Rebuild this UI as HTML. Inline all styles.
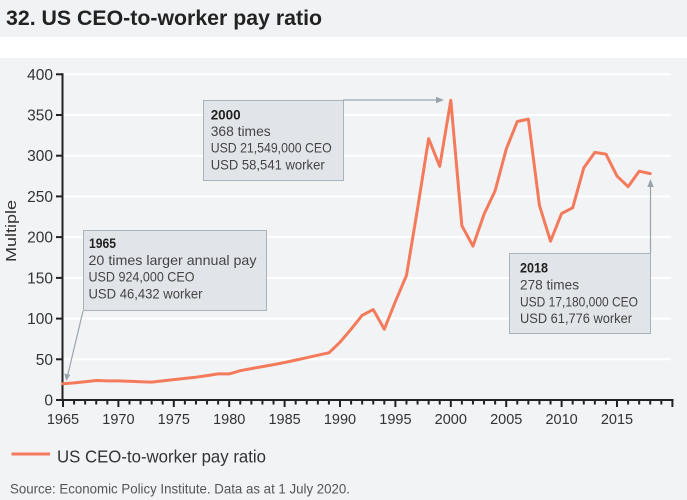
<!DOCTYPE html>
<html><head><meta charset="utf-8"><style>
html,body{margin:0;padding:0;background:#f2f3f5;}
svg{display:block;font-family:"Liberation Sans",sans-serif;}
</style></head><body>
<svg width="687" height="500" viewBox="0 0 687 500" xmlns="http://www.w3.org/2000/svg">
<rect x="0" y="0" width="687" height="37" fill="#f1f2f3"/>
<rect x="0" y="37" width="687" height="21" fill="#ffffff"/>
<rect x="0" y="58" width="687" height="442" fill="#f2f3f5"/>
<text x="6" y="25" font-size="21" font-weight="bold" fill="#222" textLength="316" lengthAdjust="spacingAndGlyphs">32. US CEO-to-worker pay ratio</text>

<g stroke="#ffffff" stroke-width="2">
<line x1="63" y1="359.3" x2="671" y2="359.3"/>
<line x1="63" y1="318.6" x2="671" y2="318.6"/>
<line x1="63" y1="277.9" x2="671" y2="277.9"/>
<line x1="63" y1="237.1" x2="671" y2="237.1"/>
<line x1="63" y1="196.4" x2="671" y2="196.4"/>
<line x1="63" y1="155.7" x2="671" y2="155.7"/>
<line x1="63" y1="115" x2="671" y2="115"/>
<line x1="63" y1="74.3" x2="671" y2="74.3"/>
</g>

<g stroke="#222" stroke-width="2" fill="none">
<line x1="62.5" y1="73.3" x2="62.5" y2="401"/>
<line x1="61.5" y1="400" x2="673.5" y2="400"/>
<line x1="56" y1="400" x2="62" y2="400"/>
<line x1="56" y1="359.3" x2="62" y2="359.3"/>
<line x1="56" y1="318.6" x2="62" y2="318.6"/>
<line x1="56" y1="277.9" x2="62" y2="277.9"/>
<line x1="56" y1="237.1" x2="62" y2="237.1"/>
<line x1="56" y1="196.4" x2="62" y2="196.4"/>
<line x1="56" y1="155.7" x2="62" y2="155.7"/>
<line x1="56" y1="115" x2="62" y2="115"/>
<line x1="56" y1="74.3" x2="63.5" y2="74.3"/>
</g>
<g stroke="#222" stroke-width="2">
<line x1="63" y1="400" x2="63" y2="407"/>
<line x1="74.08" y1="400" x2="74.08" y2="404.5"/>
<line x1="85.16" y1="400" x2="85.16" y2="404.5"/>
<line x1="96.24" y1="400" x2="96.24" y2="404.5"/>
<line x1="107.32" y1="400" x2="107.32" y2="404.5"/>
<line x1="118.4" y1="400" x2="118.4" y2="407"/>
<line x1="129.48" y1="400" x2="129.48" y2="404.5"/>
<line x1="140.56" y1="400" x2="140.56" y2="404.5"/>
<line x1="151.64" y1="400" x2="151.64" y2="404.5"/>
<line x1="162.72" y1="400" x2="162.72" y2="404.5"/>
<line x1="173.8" y1="400" x2="173.8" y2="407"/>
<line x1="184.88" y1="400" x2="184.88" y2="404.5"/>
<line x1="195.96" y1="400" x2="195.96" y2="404.5"/>
<line x1="207.04" y1="400" x2="207.04" y2="404.5"/>
<line x1="218.12" y1="400" x2="218.12" y2="404.5"/>
<line x1="229.2" y1="400" x2="229.2" y2="407"/>
<line x1="240.28" y1="400" x2="240.28" y2="404.5"/>
<line x1="251.36" y1="400" x2="251.36" y2="404.5"/>
<line x1="262.44" y1="400" x2="262.44" y2="404.5"/>
<line x1="273.52" y1="400" x2="273.52" y2="404.5"/>
<line x1="284.6" y1="400" x2="284.6" y2="407"/>
<line x1="295.68" y1="400" x2="295.68" y2="404.5"/>
<line x1="306.76" y1="400" x2="306.76" y2="404.5"/>
<line x1="317.84" y1="400" x2="317.84" y2="404.5"/>
<line x1="328.92" y1="400" x2="328.92" y2="404.5"/>
<line x1="340" y1="400" x2="340" y2="407"/>
<line x1="351.08" y1="400" x2="351.08" y2="404.5"/>
<line x1="362.16" y1="400" x2="362.16" y2="404.5"/>
<line x1="373.24" y1="400" x2="373.24" y2="404.5"/>
<line x1="384.32" y1="400" x2="384.32" y2="404.5"/>
<line x1="395.4" y1="400" x2="395.4" y2="407"/>
<line x1="406.48" y1="400" x2="406.48" y2="404.5"/>
<line x1="417.56" y1="400" x2="417.56" y2="404.5"/>
<line x1="428.64" y1="400" x2="428.64" y2="404.5"/>
<line x1="439.72" y1="400" x2="439.72" y2="404.5"/>
<line x1="450.8" y1="400" x2="450.8" y2="407"/>
<line x1="461.88" y1="400" x2="461.88" y2="404.5"/>
<line x1="472.96" y1="400" x2="472.96" y2="404.5"/>
<line x1="484.04" y1="400" x2="484.04" y2="404.5"/>
<line x1="495.12" y1="400" x2="495.12" y2="404.5"/>
<line x1="506.2" y1="400" x2="506.2" y2="407"/>
<line x1="517.28" y1="400" x2="517.28" y2="404.5"/>
<line x1="528.36" y1="400" x2="528.36" y2="404.5"/>
<line x1="539.44" y1="400" x2="539.44" y2="404.5"/>
<line x1="550.52" y1="400" x2="550.52" y2="404.5"/>
<line x1="561.6" y1="400" x2="561.6" y2="407"/>
<line x1="572.68" y1="400" x2="572.68" y2="404.5"/>
<line x1="583.76" y1="400" x2="583.76" y2="404.5"/>
<line x1="594.84" y1="400" x2="594.84" y2="404.5"/>
<line x1="605.92" y1="400" x2="605.92" y2="404.5"/>
<line x1="617" y1="400" x2="617" y2="407"/>
<line x1="628.08" y1="400" x2="628.08" y2="404.5"/>
<line x1="639.16" y1="400" x2="639.16" y2="404.5"/>
<line x1="650.24" y1="400" x2="650.24" y2="404.5"/>
<line x1="661.32" y1="400" x2="661.32" y2="404.5"/>
<line x1="672.4" y1="400" x2="672.4" y2="407"/>
</g>

<g font-size="15.5" fill="#333" text-anchor="end">
<text x="53" y="405.5">0</text>
<text x="53" y="364.8">50</text>
<text x="53" y="324.1">100</text>
<text x="53" y="283.4">150</text>
<text x="53" y="242.6">200</text>
<text x="53" y="201.9">250</text>
<text x="53" y="161.2">300</text>
<text x="53" y="120.5">350</text>
<text x="53" y="79.8">400</text>
</g>
<g font-size="14.5" fill="#333" text-anchor="middle">
<text x="63" y="424">1965</text>
<text x="118.4" y="424">1970</text>
<text x="173.8" y="424">1975</text>
<text x="229.2" y="424">1980</text>
<text x="284.6" y="424">1985</text>
<text x="340" y="424">1990</text>
<text x="395.4" y="424">1995</text>
<text x="450.8" y="424">2000</text>
<text x="506.2" y="424">2005</text>
<text x="561.6" y="424">2010</text>
<text x="617" y="424">2015</text>
</g>
<text transform="translate(16,231) rotate(-90)" font-size="15" fill="#333" text-anchor="middle" textLength="62" lengthAdjust="spacingAndGlyphs">Multiple</text>

<polyline fill="none" stroke="#f47a5c" stroke-width="3" stroke-linejoin="round" stroke-linecap="round" points="63,383.7 74.08,382.9 85.16,381.7 96.24,380.5 107.32,380.9 118.4,380.9 129.48,381.3 140.56,381.7 151.64,382.1 162.72,380.9 173.8,379.6 184.88,378.4 195.96,377.2 207.04,375.6 218.12,373.9 229.2,373.9 240.28,370.7 251.36,368.6 262.44,366.6 273.52,364.6 284.6,362.5 295.68,360.1 306.76,357.7 317.84,355.2 328.92,352.8 340,342.2 351.08,329.2 362.16,315.3 373.24,309.6 384.32,329.2 395.4,301.5 406.48,275.4 417.56,208.6 428.64,138.6 439.72,166.3 450.8,100.3 461.88,225.7 472.96,246.1 484.04,214.3 495.12,190.7 506.2,149.2 517.28,121.5 528.36,119.1 539.44,205.4 550.52,241.2 561.6,213.5 572.68,207.8 583.76,167.9 594.84,152.4 605.92,154.1 617,176.1 628.08,186.7 639.16,171.2 650.24,173.6"/>

<!-- arrows -->
<g stroke="#9aa4ad" stroke-width="1.2" fill="none">
<line x1="83" y1="311" x2="67.5" y2="376"/>
<line x1="343" y1="100" x2="437" y2="100"/>
<line x1="650.5" y1="253" x2="650.5" y2="186"/>
</g>
<g fill="#9aa4ad">
<polygon points="66.3,381 64.3,373.5 70.3,374.9"/>
<polygon points="444,100 436,96.8 436,103.2"/>
<polygon points="650.5,179 647.3,187 653.7,187"/>
</g>

<!-- boxes -->
<g fill="#e1e5e9" stroke="#a9b3bb" stroke-width="1">
<rect x="83.5" y="230.5" width="183" height="80"/>
<rect x="203.5" y="100.5" width="140" height="80"/>
<rect x="509.5" y="253.5" width="141" height="80"/>
</g>
<g font-size="14" fill="#444" lengthAdjust="spacingAndGlyphs">
<text x="89" y="248" fill="#222" font-weight="bold" textLength="27" lengthAdjust="spacingAndGlyphs">1965</text>
<text x="88.5" y="265" textLength="168" lengthAdjust="spacingAndGlyphs">20 times larger annual pay</text>
<text x="88.5" y="281.7" textLength="106" lengthAdjust="spacingAndGlyphs">USD 924,000 CEO</text>
<text x="88.5" y="298.4" textLength="114" lengthAdjust="spacingAndGlyphs">USD 46,432 worker</text>

<text x="210.7" y="119.3" fill="#222" font-weight="bold" textLength="30" lengthAdjust="spacingAndGlyphs">2000</text>
<text x="210.7" y="136" textLength="60" lengthAdjust="spacingAndGlyphs">368 times</text>
<text x="210.7" y="152.7" textLength="121" lengthAdjust="spacingAndGlyphs">USD 21,549,000 CEO</text>
<text x="210.7" y="169.4" textLength="114" lengthAdjust="spacingAndGlyphs">USD 58,541 worker</text>

<text x="520" y="272.7" fill="#222" font-weight="bold" textLength="28" lengthAdjust="spacingAndGlyphs">2018</text>
<text x="520" y="289.4" textLength="59" lengthAdjust="spacingAndGlyphs">278 times</text>
<text x="520" y="306.3" textLength="118" lengthAdjust="spacingAndGlyphs">USD 17,180,000 CEO</text>
<text x="520" y="323" textLength="112" lengthAdjust="spacingAndGlyphs">USD 61,776 worker</text>
</g>

<!-- legend -->
<line x1="11.5" y1="454" x2="50" y2="454" stroke="#f47a5c" stroke-width="3"/>
<text x="57" y="462.7" font-size="17.5" fill="#333" textLength="209" lengthAdjust="spacingAndGlyphs">US CEO-to-worker pay ratio</text>
<text x="10" y="493.3" font-size="14" fill="#555" textLength="340" lengthAdjust="spacingAndGlyphs">Source: Economic Policy Institute. Data as at 1 July 2020.</text>
</svg>
</body></html>
